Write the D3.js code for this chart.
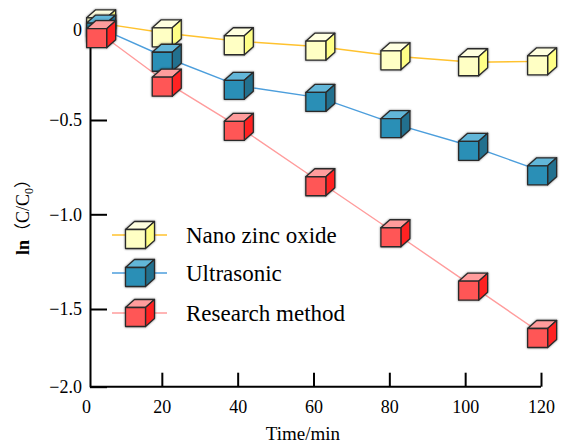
<!DOCTYPE html>
<html>
<head>
<meta charset="utf-8">
<script src="https://cdn.jsdelivr.net/npm/d3@7"></script>
<style>
  body { margin: 0; background: #fff; }
  text { font-family: "Liberation Serif", "Times New Roman", serif; }
</style>
</head>
<body>
<div id="chart-area"></div>
<script>
// data
var times = [4, 21.3, 40.3, 61.8, 81.6, 102.1, 120.3];
var nanoZnO = [0.034, -0.021, -0.065, -0.095, -0.148, -0.181, -0.176];
var ultrasonic = [0.005, -0.156, -0.311, -0.378, -0.522, -0.642, -0.772];
var research = [-0.026, -0.294, -0.536, -0.830, -1.100, -1.382, -1.661];
var seriesNames = ["Nano zinc oxide", "Ultrasonic", "Research method"];
var xTicks = [0, 20, 40, 60, 80, 100, 120];
var yTicks = [0, -0.5, -1.0, -1.5, -2.0];

var styles = [
    { line: "#FFC22E", front: "#FFFFC4", top: "#FFFFE0", side: "#FFFF86" },
    { line: "#4C9EDC", front: "#2C8FB6", top: "#62B6D8", side: "#236F8E" },
    { line: "#FF9C9C", front: "#FF5656", top: "#FF9C9C", side: "#FF2424" }
];

var svg = d3.select("#chart-area")
    .append("svg")
        .attr("width", 566)
        .attr("height", 446);

// soft grey halo round the cubes
var defs = svg.append("defs");
var f = defs.append("filter").attr("id", "halo")
    .attr("x", "-30%").attr("y", "-30%").attr("width", "160%").attr("height", "160%");
f.append("feGaussianBlur").attr("in", "SourceAlpha").attr("stdDeviation", 1).attr("result", "b");
f.append("feComponentTransfer").attr("in", "b").attr("result", "c")
    .append("feFuncA").attr("type", "linear").attr("slope", 0.5);
var fm = f.append("feMerge");
fm.append("feMergeNode").attr("in", "c");
fm.append("feMergeNode").attr("in", "SourceGraphic");

var x = d3.scaleLinear()
    .domain([0, 120])
    .range([86, 541]);

// the original axis is not quite even, so map each tick
var y = d3.scaleLinear()
    .domain(yTicks)
    .range([29.5, 120, 214.3, 309, 386.7]);

var axisX = 90; // where the y axis stands

// axes
var yAxis = d3.axisLeft(y)
    .tickValues(yTicks)
    .tickFormat(function(d){ return d === 0 ? "0" : d3.format(".1f")(d); })
    .tickSizeInner(-17)
    .tickSizeOuter(0)
    .tickPadding(8);

var gy = svg.append("g")
    .attr("transform", "translate(" + axisX + ",0)")
    .call(yAxis);

var xAxis = d3.axisBottom(x)
    .tickValues(xTicks)
    .tickSizeInner(-14)
    .tickSizeOuter(0)
    .tickPadding(14);

var gx = svg.append("g")
    .attr("transform", "translate(0," + y(-2) + ")")
    .call(xAxis);
gx.select(".domain").remove();
gx.append("line")
    .attr("x1", axisX).attr("x2", x(120))
    .attr("y1", 0).attr("y2", 0)
    .attr("stroke", "#000").attr("stroke-width", 2);

[gx, gy].forEach(function(g){
    g.attr("font-family", "Liberation Serif").attr("font-size", 18);
    g.selectAll("path, line").attr("stroke", "#000").attr("stroke-width", 2);
    g.selectAll("text")
        .attr("fill", "#000")
        .attr("font-family", "Liberation Serif")
        .style("font-size", "18px")
        .style("font-family", "'Liberation Serif'");
});
gx.selectAll(".tick").filter(function(d){ return d === 0; }).select("line").remove();

// axis titles
svg.append("text")
    .attr("x", 303).attr("y", 440)
    .attr("text-anchor", "middle")
    .style("font-size", "19px")
    .text("Time/min");

var yt = svg.append("text")
    .attr("transform", "translate(29,213) rotate(-90)")
    .attr("text-anchor", "middle")
    .style("font-size", "18px")
    .style("font-family", "'Liberation Serif', 'Noto Sans CJK SC', serif");
yt.append("tspan").style("font-weight", "bold").text("ln");
yt.append("tspan").style("font-family", "'Noto Sans CJK SC'").style("font-size", "17px").text("（");
yt.append("tspan").text("C/C");
yt.append("tspan").attr("dy", 4).style("font-size", "12px").text("0");
yt.append("tspan").attr("dy", -4).style("font-family", "'Noto Sans CJK SC'").style("font-size", "17px").text("）");

// cube: front face w x h, depth offset dx, dy; (cx, cy) is the centre of the whole box
var cw = 20, ch = 19, cdx = 9, cdy = 8;
function cube(g, cx, cy, st) {
    var l = cx - (cw + cdx) / 2;
    var t = cy - (ch + cdy) / 2 + cdy;
    var c = g.append("g").attr("filter", "url(#halo)");
    c.append("path")
        .attr("d", "M" + l + "," + t + "l" + cdx + "," + (-cdy) + "h" + cw + "l" + (-cdx) + "," + cdy + "Z")
        .attr("fill", st.top);
    c.append("path")
        .attr("d", "M" + (l + cw) + "," + t + "l" + cdx + "," + (-cdy) + "v" + ch + "l" + (-cdx) + "," + cdy + "Z")
        .attr("fill", st.side);
    c.append("rect")
        .attr("x", l).attr("y", t)
        .attr("width", cw).attr("height", ch)
        .attr("fill", st.front);
    c.selectAll("path, rect")
        .attr("stroke", "#2a2a2a")
        .attr("stroke-width", 1.3)
        .attr("stroke-linejoin", "round");
}

var allSeries = [nanoZnO, ultrasonic, research];

var line = d3.line()
    .x(function(d){ return x(d[0]); })
    .y(function(d){ return y(d[1]); });

allSeries.forEach(function(vals, i){
    var pts = times.map(function(t, j){ return [t, vals[j]]; });
    svg.append("path")
        .datum(pts)
        .attr("d", line)
        .attr("fill", "none")
        .attr("stroke", styles[i].line)
        .attr("stroke-width", 1.4);
});

allSeries.forEach(function(vals, i){
    var g = svg.append("g");
    times.forEach(function(t, j){
        cube(g, x(t), y(vals[j]), styles[i]);
    });
});

// legend
var legendY = [235, 273, 313];
seriesNames.forEach(function(name, i){
    var g = svg.append("g");
    g.append("line")
        .attr("x1", 112).attr("x2", 167)
        .attr("y1", legendY[i]).attr("y2", legendY[i])
        .attr("stroke", styles[i].line)
        .attr("stroke-width", 1.4);
    cube(g, 140, legendY[i], styles[i]);
    g.append("text")
        .attr("x", 186).attr("y", legendY[i] + 8)
        .style("font-size", "23px")
        .attr("fill", "#000")
        .text(name);
});
</script>
</body>
</html>
